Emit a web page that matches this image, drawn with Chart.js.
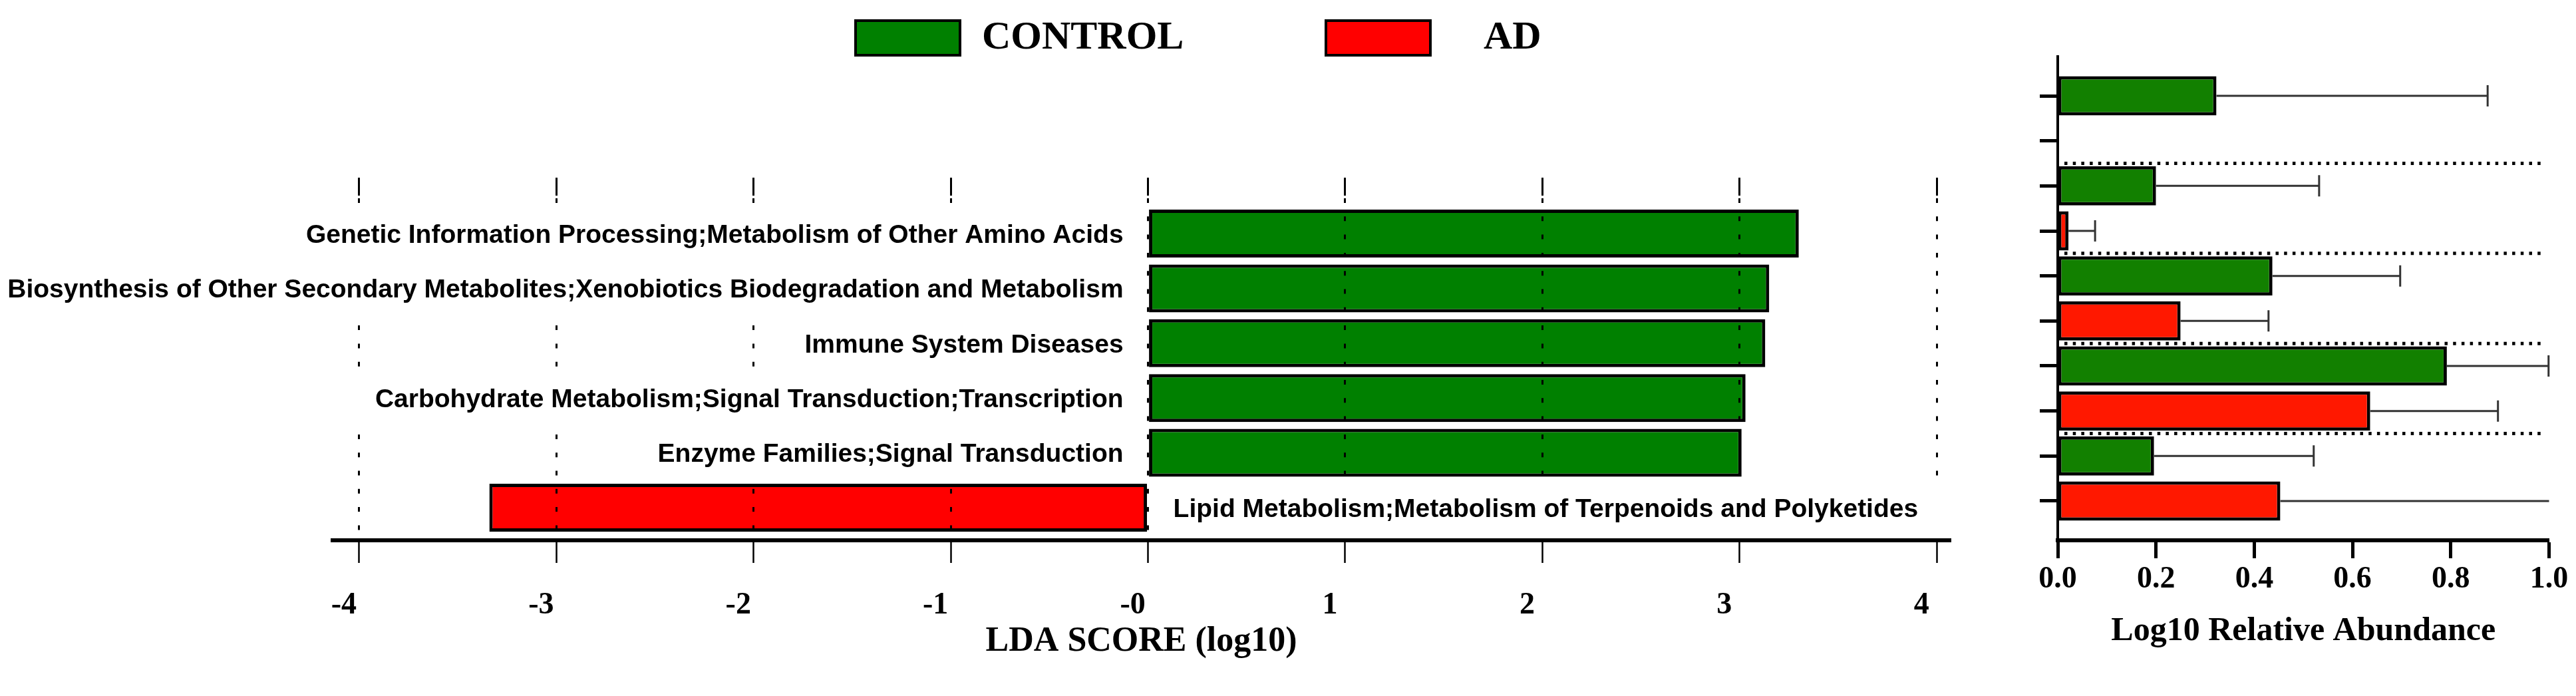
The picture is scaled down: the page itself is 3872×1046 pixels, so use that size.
<!DOCTYPE html>
<html>
<head>
<meta charset="utf-8">
<title>LDA score / Log10 Relative Abundance</title>
<script src="https://cdn.jsdelivr.net/npm/chart.js"></script>
<style>
  html, body { margin: 0; padding: 0; background: #fff; overflow: hidden; }
  #wrap { position: relative; width: 3872px; height: 1046px; }
  #lda { position: absolute; left: 0; top: 0; }
  #abund { position: absolute; left: 2960px; top: 0; }
</style>
</head>
<body>
<div id="wrap">
  <canvas id="lda" width="2960" height="1046"></canvas>
  <canvas id="abund" width="912" height="1046"></canvas>
</div>
<script>
// 左パネル: LDAスコア
const ldaFeatures = [
  'Genetic Information Processing;Metabolism of Other Amino Acids',
  'Biosynthesis of Other Secondary Metabolites;Xenobiotics Biodegradation and Metabolism',
  'Immune System Diseases',
  'Carbohydrate Metabolism;Signal Transduction;Transcription',
  'Enzyme Families;Signal Transduction',
  'Lipid Metabolism;Metabolism of Terpenoids and Polyketides'
];
const ldaScores = [3.30, 3.15, 3.13, 3.03, 3.01, -3.34];
const ldaGroups = ['CONTROL', 'CONTROL', 'CONTROL', 'CONTROL', 'CONTROL', 'AD'];
const ldaTicks = [-4, -3, -2, -1, 0, 1, 2, 3, 4];
const ldaTickLabels = ['-4', '-3', '-2', '-1', '-0', '1', '2', '3', '4'];

// 右パネル: 相対存在量 (平均とSD)
const abundanceGroups = ['CONTROL', 'AD', 'CONTROL', 'AD', 'CONTROL', 'AD', 'CONTROL', 'AD', 'CONTROL', 'AD'];
const abundanceMeans = [0.323, 0, 0.200, 0.022, 0.437, 0.250, 0.792, 0.636, 0.196, 0.453];
const abundanceSD = [0.552, 0, 0.332, 0.054, 0.260, 0.179, 0.207, 0.260, 0.325, 0.600];
const abundanceTicks = [0, 0.2, 0.4, 0.6, 0.8, 1.0];
const abundanceTickLabels = ['0.0', '0.2', '0.4', '0.6', '0.8', '1.0'];

const groupNames = ['CONTROL', 'AD'];
const ldaColors = { CONTROL: '#008000', AD: '#ff0000' };
const abundanceColors = { CONTROL: '#128000', AD: '#ff1800' };

Chart.defaults.font.family = '"Liberation Serif", "Times New Roman", serif';
Chart.defaults.color = '#000';

// グループごとに {x: 値, y: 行番号} を取り出す
function barData(values, groups, group) {
  const out = [];
  values.forEach((v, i) => {
    if (groups[i] === group) out.push({ x: v, y: i });
  });
  return out;
}

// 凡例 (上部中央の大きな四角)
const legendBoxX = [1286, 1993];
const legendTextX = [1476, 2230];
const legendBoxes = {
  id: 'legendBoxes',
  afterDraw(chart) {
    const ctx = chart.ctx;
    ctx.save();
    ctx.font = 'bold 60px "Liberation Serif", "Times New Roman", serif';
    ctx.textAlign = 'left';
    ctx.textBaseline = 'alphabetic';
    chart.data.datasets.forEach((ds, i) => {
      ctx.fillStyle = ds.backgroundColor;
      ctx.fillRect(legendBoxX[i], 31, 157, 52);
      ctx.lineWidth = 4;
      ctx.strokeStyle = '#000';
      ctx.strokeRect(legendBoxX[i], 31, 157, 52);
      ctx.fillStyle = '#000';
      ctx.fillText(ds.label, legendTextX[i], 73);
    });
    ctx.restore();
  }
};

// 棒の横の特徴名 (白い背景で点線を隠す)
const rowLabels = {
  id: 'rowLabels',
  afterDraw(chart) {
    const ctx = chart.ctx;
    const xs = chart.scales.x;
    const ys = chart.scales.y;
    const x0 = xs.getPixelForValue(0);
    const band = Math.abs(ys.getPixelForValue(1) - ys.getPixelForValue(0));
    ctx.save();
    ctx.font = 'bold 39px "Liberation Sans", Arial, sans-serif';
    ctx.textBaseline = 'middle';
    ldaFeatures.forEach((name, i) => {
      const y = ys.getPixelForValue(i);
      const w = ctx.measureText(name).width;
      const pos = ldaScores[i] >= 0;
      const tx = pos ? x0 - 37 : x0 + 38;
      const left = pos ? tx - w - 45 : tx - 30;
      ctx.fillStyle = '#fff';
      ctx.fillRect(left, y - band / 2, w + 75, band);
      ctx.fillStyle = '#000';
      ctx.textAlign = pos ? 'right' : 'left';
      ctx.fillText(name, tx, y + 3);
    });
    ctx.restore();
  }
};

new Chart(document.getElementById('lda'), {
  type: 'bar',
  data: {
    datasets: groupNames.map(g => ({
      label: g,
      data: barData(ldaScores, ldaGroups, g),
      backgroundColor: ldaColors[g],
      borderColor: '#000',
      borderWidth: 5,
      borderSkipped: false,
      grouped: false,
      categoryPercentage: 1,
      barPercentage: 0.874,
      xAxisID: 'x',
      yAxisID: 'y'
    }))
  },
  options: {
    indexAxis: 'y',
    responsive: false,
    animation: false,
    layout: { padding: { top: 267, left: 500, right: 21, bottom: 0 } },
    plugins: { legend: { display: false }, tooltip: { enabled: false } },
    scales: {
      x: {
        type: 'linear',
        position: 'bottom',
        min: -4.1345,
        max: 4.0673,
        afterBuildTicks: s => { s.ticks = ldaTicks.map(v => ({ value: v })); },
        afterFit: s => { s.height = 234; },
        ticks: {
          callback: (v, i) => ldaTickLabels[i],
          font: { size: 46, weight: 'bold' },
          padding: 37,
          labelOffset: -23,
          maxRotation: 0,
          autoSkip: false
        },
        // 点線のグリッドは棒の上に描く
        grid: { color: '#000', lineWidth: 3, z: 1, tickLength: 34, tickWidth: 2.5, tickBorderDash: [] },
        border: { display: true, color: '#000', width: 6, z: 1, dash: [7, 20.3], dashOffset: 23.3 },
        title: {
          display: true,
          text: 'LDA SCORE (log10)',
          font: { size: 52, weight: 'bold' },
          padding: { top: 0, bottom: 50 }
        }
      },
      xTop: {
        type: 'linear',
        axis: 'x',
        position: 'top',
        min: -4.1345,
        max: 4.0673,
        afterBuildTicks: s => { s.ticks = ldaTicks.map(v => ({ value: v })); },
        afterFit: s => { s.height = 27; },
        ticks: { display: false },
        grid: { drawOnChartArea: false, color: '#000', tickLength: 27, tickWidth: 3 },
        border: { display: false, width: 0 }
      },
      y: {
        type: 'linear',
        display: false,
        reverse: true,
        offset: false,
        min: -0.692,
        max: 5.595,
        afterBuildTicks: s => { s.ticks = ldaFeatures.map((_, i) => ({ value: i })); }
      }
    }
  },
  plugins: [rowLabels, legendBoxes]
});

// エラーバー (右側のみ、キャップ付き)
const errorBars = {
  id: 'errorBars',
  afterDatasetsDraw(chart) {
    const ctx = chart.ctx;
    const area = chart.chartArea;
    const xs = chart.scales.x;
    ctx.save();
    ctx.strokeStyle = '#333';
    ctx.lineWidth = 3;
    chart.data.datasets.forEach((ds, di) => {
      const meta = chart.getDatasetMeta(di);
      ds.data.forEach((pt, j) => {
        const sd = abundanceSD[pt.y];
        if (!sd) return;
        const bar = meta.data[j];
        const xEnd = xs.getPixelForValue(pt.x + sd);
        ctx.beginPath();
        ctx.moveTo(bar.x, bar.y);
        ctx.lineTo(Math.min(xEnd, area.right), bar.y);
        if (xEnd <= area.right + 1) {
          ctx.moveTo(xEnd, bar.y - 16);
          ctx.lineTo(xEnd, bar.y + 16);
        }
        ctx.stroke();
      });
    });
    ctx.restore();
  }
};

// ペアごとの点線区切り
const pairSeparators = {
  id: 'pairSeparators',
  afterDatasetsDraw(chart) {
    const ctx = chart.ctx;
    const area = chart.chartArea;
    const ys = chart.scales.y;
    ctx.save();
    for (let i = 2; i < abundanceGroups.length; i += 2) {
      const y = (ys.getPixelForValue(i - 1) + ys.getPixelForValue(i)) / 2;
      ctx.setLineDash([]);
      ctx.strokeStyle = '#fff';
      ctx.lineWidth = 6;
      ctx.beginPath();
      ctx.moveTo(area.left + 10, y);
      ctx.lineTo(area.right - 7, y);
      ctx.stroke();
      ctx.setLineDash([4.5, 8.2]);
      ctx.strokeStyle = '#000';
      ctx.lineWidth = 5;
      ctx.beginPath();
      ctx.moveTo(area.left + 10, y);
      ctx.lineTo(area.right - 7, y);
      ctx.stroke();
    }
    ctx.restore();
  }
};

new Chart(document.getElementById('abund'), {
  type: 'bar',
  data: {
    datasets: groupNames.map(g => ({
      label: g,
      data: barData(abundanceMeans, abundanceGroups, g),
      backgroundColor: abundanceColors[g],
      borderColor: '#000',
      borderWidth: 5,
      borderSkipped: false,
      grouped: false,
      categoryPercentage: 1,
      barPercentage: 0.872,
      xAxisID: 'x',
      yAxisID: 'y'
    }))
  },
  options: {
    indexAxis: 'y',
    responsive: false,
    animation: false,
    layout: { padding: { top: 85, left: 106, right: 40.5, bottom: 0 } },
    plugins: { legend: { display: false }, tooltip: { enabled: false } },
    scales: {
      x: {
        type: 'linear',
        position: 'bottom',
        min: 0,
        max: 1,
        afterBuildTicks: s => { s.ticks = abundanceTicks.map(v => ({ value: v })); },
        afterFit: s => { s.height = 234; },
        ticks: {
          callback: (v, i) => abundanceTickLabels[i],
          font: { size: 46, weight: 'bold' },
          padding: 5,
          maxRotation: 0,
          autoSkip: false
        },
        grid: { drawOnChartArea: false, color: '#000', tickLength: 27, tickWidth: 5 },
        border: { color: '#000', width: 6 },
        title: {
          display: true,
          text: 'Log10 Relative Abundance',
          font: { size: 50, weight: 'bold' },
          padding: { top: 0, bottom: 67 }
        }
      },
      y: {
        type: 'linear',
        position: 'left',
        reverse: true,
        offset: false,
        min: -0.872,
        max: 9.872,
        afterBuildTicks: s => { s.ticks = abundanceMeans.map((_, i) => ({ value: i })); },
        afterFit: s => { s.width = 27; },
        ticks: { display: false },
        grid: { drawOnChartArea: false, offset: false, color: '#000', tickLength: 27, tickWidth: 5 },
        border: { color: '#000', width: 4 }
      }
    }
  },
  plugins: [errorBars, pairSeparators]
});
</script>
</body>
</html>
